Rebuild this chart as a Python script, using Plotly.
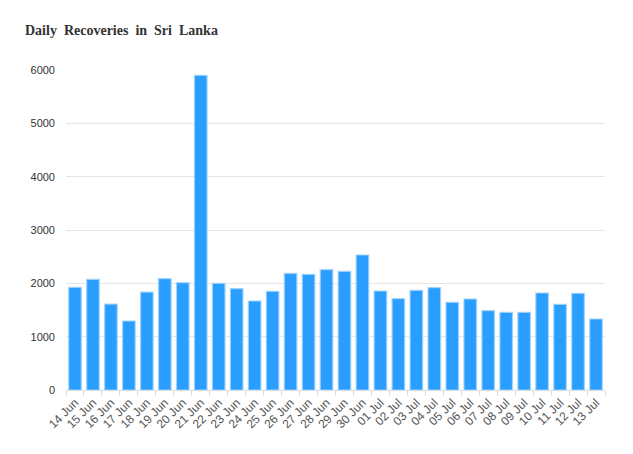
import plotly.graph_objects as go

dates = ["14 Jun", "15 Jun", "16 Jun", "17 Jun", "18 Jun", "19 Jun", "20 Jun", "21 Jun",
         "22 Jun", "23 Jun", "24 Jun", "25 Jun", "26 Jun", "27 Jun", "28 Jun", "29 Jun",
         "30 Jun", "01 Jul", "02 Jul", "03 Jul", "04 Jul", "05 Jul", "06 Jul", "07 Jul",
         "08 Jul", "09 Jul", "10 Jul", "11 Jul", "12 Jul", "13 Jul"]
recoveries = [1925, 2075, 1612, 1294, 1837, 2088, 2013, 5900,
              2000, 1900, 1669, 1850, 2188, 2169, 2256, 2225,
              2531, 1856, 1713, 1869, 1919, 1644, 1706, 1487,
              1456, 1456, 1819, 1606, 1812, 1331]
y_ticks = [0, 1000, 2000, 3000, 4000, 5000, 6000]

W, H = 625, 446

fig = go.Figure()
fig.add_trace(go.Bar(
    x=dates, y=recoveries,
    marker=dict(color="rgb(42,158,255)", line=dict(color="rgba(160,210,250,0.9)", width=1.2)),
))

fig.update_layout(
    width=W, height=H,
    margin=dict(l=58, r=28, t=62, b=64),
    paper_bgcolor="white", plot_bgcolor="white",
    bargap=0.3,
    showlegend=False,
    title=dict(
        text="<b>Daily\u00a0 Recoveries\u00a0 in\u00a0 Sri\u00a0 Lanka</b>",
        x=17/W, xanchor="left", y=1-22/H, yanchor="middle",
        font=dict(family="Liberation Serif", size=14, color="#333"),
    ),
    xaxis=dict(
        type="category",
        tickangle=-45,
        tickson="boundaries",
        ticks="outside", ticklen=5, tickcolor="#dddddd",
        showline=True, linecolor="#dddddd", linewidth=1,
        showgrid=False,
        tickfont=dict(family="Liberation Sans", size=12, color="#555"),
    ),
    yaxis=dict(
        range=[0, 6000],
        tickvals=y_ticks,
        showgrid=True, gridcolor="#e6e6e6", gridwidth=1,
        zeroline=False, showline=False,
        ticks="", ticklabelstandoff=10,
        tickfont=dict(family="Liberation Sans", size=11, color="#333"),
    ),
)

fig.write_html("out.html")
